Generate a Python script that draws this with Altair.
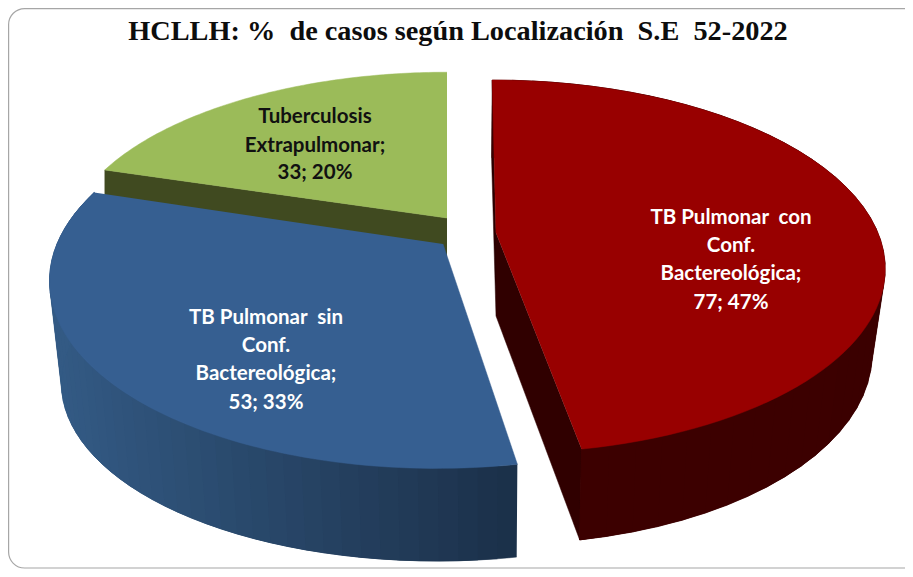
import math
import numpy as np
import pandas as pd
import altair as alt

TITLE = "HCLLH: %\u00a0\u00a0de casos según Localización\u00a0\u00a0S.E\u00a0\u00a052-2022"
categories = ["TB Pulmonar con Conf. Bactereológica", "TB Pulmonar sin Conf. Bactereológica", "Tuberculosis Extrapulmonar"]
values = [77, 53, 33]
percents = [47, 33, 20]
top_colors = ["#980000", "#365f91", "#9bbb59"]

W, H = 897, 561
K = 0.18
total = sum(values)
cum = np.cumsum([0] + values) / total * 360.0
ang = {c: (cum[i], cum[i + 1]) for i, c in enumerate(["red", "blue", "green"])}

# perspective model of each exploded slice: apex, semi axes, skew
top = {
    "red": dict(ax=496, ay=233, A=382, B=180.5, t=0.025),
    "blue": dict(ax=443, ay=244, A=386, B=184, t=-0.03),
    "green": dict(ax=447, ay=218, A=377, B=172, t=0.0),
}
bot = {
    "red": dict(ax=496, ay=316, A=369, B=187, t=0.028),
    "blue": dict(ax=446, ay=347, A=377, B=175.5, t=-0.04),
    "green": dict(ax=447, ay=262, A=377, B=172, t=0.0),
}


def rim(p, deg):
    th = math.radians(deg)
    X, Y = math.sin(th), math.cos(th)
    w = 1 + K * Y
    dy = -p["B"] * Y / w
    return p["ax"] + p["A"] * X / w + p["t"] * dy, p["ay"] + dy


def arc(p, a0, a1, n=90):
    return [rim(p, d) for d in np.linspace(a0, a1, n)]


def apex(p):
    return (p["ax"], p["ay"])


scale_x = alt.Scale(domain=[8, 8 + W], range=[0, W])
scale_y = alt.Scale(domain=[8, 8 + H], range=[0, H])


def poly_layer(polys):
    rows = []
    for gid, (pts, col) in enumerate(polys):
        for o, (x, y) in enumerate(pts):
            rows.append(dict(x=x, y=y, o=o, g=gid, c=col))
    df = pd.DataFrame(rows)
    return alt.Chart(df).mark_line(strokeWidth=0.5, fill="#000000").encode(
        x=alt.X("x:Q", scale=scale_x, axis=None),
        y=alt.Y("y:Q", scale=scale_y, axis=None),
        order="o:Q",
        detail="g:N",
        fill=alt.Fill("c:N", scale=None),
        stroke=alt.Stroke("c:N", scale=None),
    )


def mix(c0, c1, f):
    a = [int(c0[i:i + 2], 16) for i in (1, 3, 5)]
    b = [int(c1[i:i + 2], 16) for i in (1, 3, 5)]
    return "#%02x%02x%02x" % tuple(round(a[i] + (b[i] - a[i]) * f) for i in range(3))


def strips(name, c0, c1, a0, a1, n=48):
    ds = np.linspace(a0, a1, n + 1)
    out = []
    for i in range(n):
        j = min(i + 3, n)
        p0, p1 = rim(top[name], ds[i]), rim(top[name], ds[j])
        q0, q1 = rim(bot[name], ds[i]), rim(bot[name], ds[j])
        xm = (rim(top[name], ds[i])[0] + rim(top[name], ds[i + 1])[0]) / 2
        f = max(0, min(1, (xm - 55) / 460)) if name == "blue" else i / n
        out.append(([p0, rim(top[name], ds[(i + j) // 2]), p1, q1, rim(bot[name], ds[(i + j) // 2]), q0], mix(c0, c1, f)))
    return out


r0, r1 = ang["red"]
b0, b1 = ang["blue"]
g0, g1 = ang["green"]
W_RED, W_BLUE0, W_BLUE1, W_GREEN = "#3a0000", "#335a84", "#1b3049", "#404a20"

layers = []
# green slice
layers.append(poly_layer([([apex(top["green"]), rim(top["green"], g0), rim(bot["green"], g0), apex(bot["green"])], W_GREEN)]))
layers.append(poly_layer([([apex(top["green"])] + arc(top["green"], g0, g1), top_colors[2])]))
# red slice
layers.append(poly_layer([
    ([apex(top["red"]), rim(top["red"], r0), rim(bot["red"], r0), apex(bot["red"])], "#2a0000"),
    ([apex(top["red"]), rim(top["red"], r1), rim(bot["red"], r1), apex(bot["red"])], "#300000"),
]))
layers.append(poly_layer(strips("red", W_RED, "#3c0000", r0, r1)))
layers.append(poly_layer([([apex(top["red"])] + arc(top["red"], r0, r1), top_colors[0])]))
# blue slice
layers.append(poly_layer(strips("blue", W_BLUE0, W_BLUE1, b0, b1)))
layers.append(poly_layer([([apex(top["blue"])] + arc(top["blue"], b0, b1), top_colors[1])]))

# frame
frame = alt.Chart(pd.DataFrame({"a": [0]})).mark_rect(
    fill="#ffffff", stroke="#a6a6a6", strokeWidth=1.2, cornerRadius=16
).encode(x=alt.value(0.6), x2=alt.value(940), y=alt.value(0.6), y2=alt.value(H - 1))

# labels
label_lines = pd.DataFrame(
    [
        dict(x=731, y=218, t="TB Pulmonar\u00a0\u00a0con", c="#ffffff"),
        dict(x=731, y=246, t="Conf.", c="#ffffff"),
        dict(x=731, y=274, t="Bactereológica;", c="#ffffff"),
        dict(x=731, y=303, t=f"{values[0]}; {percents[0]}%", c="#ffffff"),
        dict(x=266, y=318, t="TB Pulmonar\u00a0\u00a0sin", c="#ffffff"),
        dict(x=266, y=346, t="Conf.", c="#ffffff"),
        dict(x=266, y=374, t="Bactereológica;", c="#ffffff"),
        dict(x=266, y=403, t=f"{values[1]}; {percents[1]}%", c="#ffffff"),
        dict(x=315, y=117, t="Tuberculosis", c="#111111"),
        dict(x=315, y=146, t="Extrapulmonar;", c="#111111"),
        dict(x=315, y=173, t=f"{values[2]}; {percents[2]}%", c="#111111"),
    ]
)
labels = alt.Chart(label_lines).mark_text(
    font="Lato", fontWeight="bold", fontSize=20.5, align="center", baseline="middle"
).encode(
    x=alt.X("x:Q", scale=scale_x, axis=None),
    y=alt.Y("y:Q", scale=scale_y, axis=None),
    text="t:N",
    color=alt.Color("c:N", scale=None),
)
title = alt.Chart(pd.DataFrame({"x": [458], "y": [32], "t": [TITLE]})).mark_text(
    font="Liberation Serif", fontWeight="bold", fontSize=28.3, align="center", baseline="middle", color="#0d0d0d"
).encode(
    x=alt.X("x:Q", scale=scale_x, axis=None),
    y=alt.Y("y:Q", scale=scale_y, axis=None),
    text="t:N",
)

chart = alt.layer(frame, *layers, labels, title).properties(
    width=W, height=H, padding=0, background="#ffffff"
).configure_view(stroke=None)
chart = chart.properties(autosize=alt.AutoSizeParams(type="none"))
chart.save("out.html", embed_options={"renderer": "svg", "actions": False})
